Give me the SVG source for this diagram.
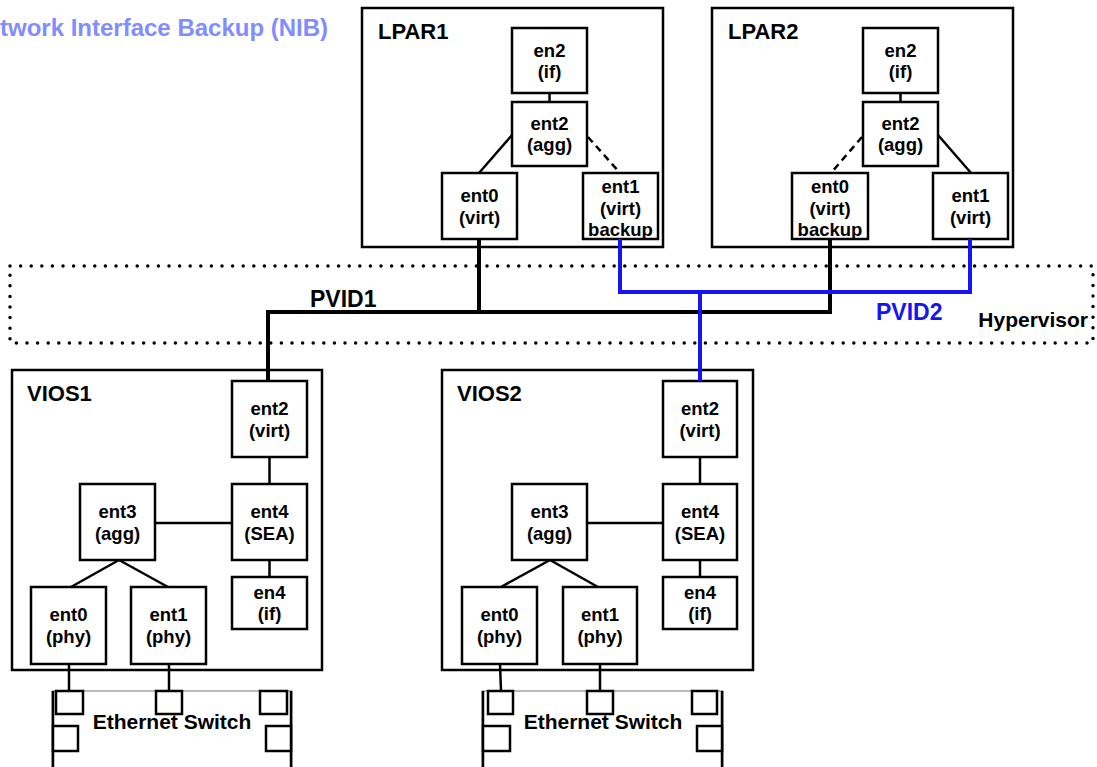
<svg xmlns="http://www.w3.org/2000/svg" width="1097" height="767" viewBox="0 0 1097 767">
<style>
.bg{fill:#fff}
.box{fill:#fff;stroke:#000;stroke-width:2.5}
.ctr{fill:#fff;stroke:#000;stroke-width:2.5}
.port{fill:#fff;stroke:#000;stroke-width:2.5}
.ln{stroke:#000;stroke-width:2.5;fill:none}
.dash{stroke:#000;stroke-width:2.5;fill:none;stroke-dasharray:7 5}
.pvid1{stroke:#000;stroke-width:4;fill:none}
.pvid2{stroke:#1414f5;stroke-width:4;fill:none}
.t{font-family:"Liberation Sans",Arial,sans-serif;font-weight:bold;font-size:18.5px;text-anchor:middle;fill:#000}
.lbl{font-family:"Liberation Sans",Arial,sans-serif;font-weight:bold;font-size:22px;fill:#000}
.sw{font-family:"Liberation Sans",Arial,sans-serif;font-weight:bold;font-size:21px;text-anchor:middle;fill:#000}
</style>
<rect class="bg" x="0" y="0" width="1097" height="767"/>
<text x="0" y="36" style="font-family:'Liberation Sans',Arial,sans-serif;font-weight:bold;font-size:24px;fill:#7f8dff">twork Interface Backup (NIB)</text>

<!-- Hypervisor -->
<g id="hypervisor">
<rect x="10" y="266" width="1083" height="77" fill="none" stroke="#000" stroke-width="3.5" stroke-linecap="round" stroke-dasharray="0 10.6"/>
<text class="lbl" x="1088" y="327" text-anchor="end" style="font-size:21px">Hypervisor</text>
</g>

<!-- LPAR1 -->
<g id="lpar1">
<rect class="ctr" x="362" y="8" width="301" height="239"/>
<text class="lbl" x="378" y="39">LPAR1</text>
</g>
<g id="lpar1-en2"><rect class="box" x="512" y="28" width="75" height="65"/><text class="t" x="549.5" y="56.5">en2</text><text class="t" x="549.5" y="78">(if)</text></g>
<g id="lpar1-ent2"><rect class="box" x="512" y="102" width="75" height="64"/><text class="t" x="549.5" y="130">ent2</text><text class="t" x="549.5" y="151">(agg)</text></g>
<g id="lpar1-ent0"><rect class="box" x="442" y="173" width="75" height="66"/><text class="t" x="479.5" y="202">ent0</text><text class="t" x="479.5" y="224">(virt)</text></g>
<g id="lpar1-ent1"><rect class="box" x="583" y="173" width="75" height="66"/><text class="t" x="620.5" y="193">ent1</text><text class="t" x="620.5" y="215">(virt)</text><text class="t" x="620.5" y="236">backup</text></g>

<!-- LPAR2 -->
<g id="lpar2">
<rect class="ctr" x="712" y="8" width="301" height="239"/>
<text class="lbl" x="728" y="39">LPAR2</text>
</g>
<g id="lpar2-en2"><rect class="box" x="863" y="28" width="75" height="65"/><text class="t" x="900.5" y="56.5">en2</text><text class="t" x="900.5" y="78">(if)</text></g>
<g id="lpar2-ent2"><rect class="box" x="863" y="102" width="75" height="64"/><text class="t" x="900.5" y="130">ent2</text><text class="t" x="900.5" y="151">(agg)</text></g>
<g id="lpar2-ent0"><rect class="box" x="792" y="173" width="76" height="66"/><text class="t" x="830" y="193">ent0</text><text class="t" x="830" y="215">(virt)</text><text class="t" x="830" y="236">backup</text></g>
<g id="lpar2-ent1"><rect class="box" x="933" y="173" width="75" height="66"/><text class="t" x="970.5" y="202">ent1</text><text class="t" x="970.5" y="224">(virt)</text></g>

<!-- VIOS1 -->
<g id="vios1">
<rect class="ctr" x="12" y="370" width="310" height="300"/>
<text class="lbl" x="27" y="401">VIOS1</text>
</g>
<g id="vios1-ent2"><rect class="box" x="232" y="381" width="75" height="76"/><text class="t" x="269.5" y="415">ent2</text><text class="t" x="269.5" y="437">(virt)</text></g>
<g id="vios1-ent4"><rect class="box" x="232" y="484" width="75" height="76"/><text class="t" x="269.5" y="518">ent4</text><text class="t" x="269.5" y="540">(SEA)</text></g>
<g id="vios1-en4"><rect class="box" x="232" y="577" width="75" height="52"/><text class="t" x="269.5" y="599">en4</text><text class="t" x="269.5" y="620">(if)</text></g>
<g id="vios1-ent3"><rect class="box" x="80" y="484" width="75" height="76"/><text class="t" x="117.5" y="518">ent3</text><text class="t" x="117.5" y="540">(agg)</text></g>
<g id="vios1-ent0"><rect class="box" x="31" y="587" width="75" height="77"/><text class="t" x="68.5" y="621">ent0</text><text class="t" x="68.5" y="643">(phy)</text></g>
<g id="vios1-ent1"><rect class="box" x="131" y="587" width="75" height="77"/><text class="t" x="168.5" y="621">ent1</text><text class="t" x="168.5" y="643">(phy)</text></g>

<!-- VIOS2 -->
<g id="vios2">
<rect class="ctr" x="442" y="370" width="311" height="300"/>
<text class="lbl" x="457" y="401">VIOS2</text>
</g>
<g id="vios2-ent2"><rect class="box" x="663" y="381" width="74" height="76"/><text class="t" x="700" y="415">ent2</text><text class="t" x="700" y="437">(virt)</text></g>
<g id="vios2-ent4"><rect class="box" x="663" y="484" width="74" height="76"/><text class="t" x="700" y="518">ent4</text><text class="t" x="700" y="540">(SEA)</text></g>
<g id="vios2-en4"><rect class="box" x="663" y="577" width="74" height="52"/><text class="t" x="700" y="599">en4</text><text class="t" x="700" y="620">(if)</text></g>
<g id="vios2-ent3"><rect class="box" x="512" y="484" width="75" height="76"/><text class="t" x="549.5" y="518">ent3</text><text class="t" x="549.5" y="540">(agg)</text></g>
<g id="vios2-ent0"><rect class="box" x="462" y="587" width="75" height="77"/><text class="t" x="499.5" y="621">ent0</text><text class="t" x="499.5" y="643">(phy)</text></g>
<g id="vios2-ent1"><rect class="box" x="563" y="587" width="74" height="77"/><text class="t" x="600" y="621">ent1</text><text class="t" x="600" y="643">(phy)</text></g>

<!-- Switches -->
<g id="switch1">
<rect x="52" y="691" width="240" height="80" fill="#fff" stroke="#777" stroke-width="1"/>
<line x1="53" y1="691" x2="53" y2="767" stroke="#000" stroke-width="2.5"/>
<line x1="291" y1="691" x2="291" y2="767" stroke="#000" stroke-width="2.5"/>
<rect class="port" x="56" y="691" width="27" height="23"/>
<rect class="port" x="156" y="691" width="26" height="23"/>
<rect class="port" x="260" y="691" width="27" height="23"/>
<rect class="port" x="53" y="726" width="25" height="25"/>
<rect class="port" x="266" y="726" width="25" height="25"/>
<text class="sw" x="172" y="729">Ethernet Switch</text>
</g>
<g id="switch2">
<rect x="482" y="691" width="241" height="80" fill="#fff" stroke="#777" stroke-width="1"/>
<line x1="483" y1="691" x2="483" y2="767" stroke="#000" stroke-width="2.5"/>
<line x1="722" y1="691" x2="722" y2="767" stroke="#000" stroke-width="2.5"/>
<rect class="port" x="488" y="691" width="25" height="23"/>
<rect class="port" x="587" y="691" width="26" height="23"/>
<rect class="port" x="692" y="691" width="25" height="23"/>
<rect class="port" x="483" y="726" width="27" height="25"/>
<rect class="port" x="697" y="726" width="25" height="25"/>
<text class="sw" x="603" y="729">Ethernet Switch</text>
</g>

<!-- Connectors -->
<g id="connectors">
<line class="ln" x1="549.5" y1="93" x2="549.5" y2="102"/>
<line class="ln" x1="512" y1="135" x2="479" y2="173"/>
<line class="dash" x1="588" y1="137" x2="620" y2="173"/>
<line class="ln" x1="900.5" y1="93" x2="900.5" y2="102"/>
<line class="dash" x1="862" y1="137" x2="831" y2="173"/>
<line class="ln" x1="938" y1="135" x2="971" y2="173"/>

<line class="ln" x1="269.5" y1="457" x2="269.5" y2="484"/>
<line class="ln" x1="269.5" y1="560" x2="269.5" y2="577"/>
<line class="ln" x1="155" y1="523" x2="232" y2="523"/>
<line class="ln" x1="119" y1="560" x2="71" y2="587"/>
<line class="ln" x1="119" y1="560" x2="168" y2="587"/>
<line class="ln" x1="69" y1="664" x2="69" y2="691"/>
<line class="ln" x1="169" y1="664" x2="169" y2="691"/>

<line class="ln" x1="700" y1="457" x2="700" y2="484"/>
<line class="ln" x1="700" y1="560" x2="700" y2="577"/>
<line class="ln" x1="587" y1="523" x2="663" y2="523"/>
<line class="ln" x1="550" y1="560" x2="501" y2="587"/>
<line class="ln" x1="550" y1="560" x2="598" y2="587"/>
<line class="ln" x1="500" y1="664" x2="501" y2="691"/>
<line class="ln" x1="600" y1="664" x2="600" y2="691"/>

<path class="pvid1" d="M268,381 V312 H830 V239"/>
<path class="pvid1" d="M479,239 V312"/>
<path class="pvid2" d="M620,239 V292 H970 V239"/>
<path class="pvid2" d="M700,292 V381"/>
<text class="lbl" x="310" y="307" style="font-size:23px">PVID1</text>
<text class="lbl" x="876" y="320" style="font-size:23px;fill:#1414f5">PVID2</text>
</g>
</svg>
